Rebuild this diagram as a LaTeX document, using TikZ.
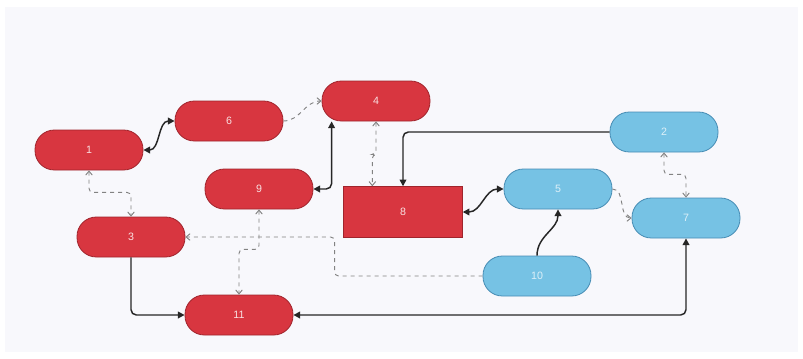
\documentclass[tikz,border=0pt]{standalone}
\usepackage{xcolor}
\usepackage{fontspec}
\setsansfont{Liberation Sans}
\usepackage{tikz}
\usetikzlibrary{positioning, arrows.meta, shapes}
\definecolor{rojo}{RGB}{216, 54, 64}
\definecolor{rojoosc}{RGB}{160, 36, 44}
\definecolor{celeste}{RGB}{118, 194, 228}
\definecolor{azulosc}{RGB}{70, 140, 180}
\definecolor{fondo}{RGB}{248, 248, 252}
\definecolor{gris}{RGB}{130, 130, 130}
\tikzset{
    roja/.style={draw=rojoosc, fill=rojo, text=white!85!rojo, rounded corners=14.5pt, minimum width=81pt, minimum height=30pt, font=\sffamily\footnotesize, line width=0.6pt},
    azul/.style={draw=azulosc, fill=celeste, text=white!75!celeste, rounded corners=14.5pt, minimum width=81pt, minimum height=30pt, font=\sffamily\footnotesize, line width=0.6pt},
    caja/.style={draw=rojoosc, fill=rojo, text=white!85!rojo, rectangle, minimum width=89pt, minimum height=38pt, font=\sffamily\footnotesize, line width=0.6pt},
    conn/.style={black!85, line width=1.1pt, rounded corners=4pt},
    conndash/.style={gris, dashed, line width=0.7pt, rounded corners=3pt},
    punta/.tip={Triangle[length=5pt, width=5pt]},
    abierta/.tip={Straight Barb[length=3pt, width=5pt]},
}

\begin{document}
\begin{tikzpicture}[x=0.75pt, y=-0.75pt]
        \useasboundingbox (0,0) rectangle (803,358);
        \fill[white] (0,0) rectangle (803,358);
        \fill[fondo] (5,7) rectangle (798,352);

        \node [roja] (n1) at (89,150) {1};
        \node [roja] (n6) at (229,121) {6};
        \node [roja] (n4) at (376,101) {4};
        \node [roja] (n9) at (259,189) {9};
        \node [caja] (n8) at (403,212) {8};
        \node [azul] (n2) at (664,132) {2};
        \node [azul] (n5) at (558,189) {5};
        \node [azul] (n7) at (686,218) {7};
        \node [roja] (n3) at (131,237) {3};
        \node [azul] (n10) at (537,276) {10};
        \node [roja] (n11) at (239,315) {11};

        \draw[conn, punta-punta] (n1.east) to[out=0, in=180] (n6.west);
        \draw[conn, punta-punta] (n9.east) -| ([xshift=7.5pt]n4.south west);
        \draw[conn, -punta] (n2.west) -| (n8.north);
        \draw[conn, punta-punta] (n8.east) to[out=0, in=180] (n5.west);
        \draw[conn, -punta] (n10.north) to[out=90, in=-90] (n5.south);
        \draw[conn, -punta] (n3.south) |- (n11.west);
        \draw[conn, punta-punta] (n11.east) -| (n7.south);

        \draw[conndash, -abierta] (n6.east) to[out=0, in=180] (n4.west);
        \draw[conndash, abierta-abierta] (n4.south) -- ++(0,33) -| ([xshift=-23pt]n8.north);
        \draw[conndash, abierta-abierta] (n2.south) -- ++(0,22) -| (n7.north);
        \draw[conndash, -abierta] (n5.east) to[out=0, in=180] (n7.west);
        \draw[conndash, abierta-abierta] (n1.south) -- ++(0,22) -| (n3.north);
        \draw[conndash, -abierta] (n10.west) -- ++(-148,0) |- (n3.east);
        \draw[conndash, abierta-abierta] (n9.south) -- ++(0,40) -| (n11.north);
    \end{tikzpicture}
\end{document}
